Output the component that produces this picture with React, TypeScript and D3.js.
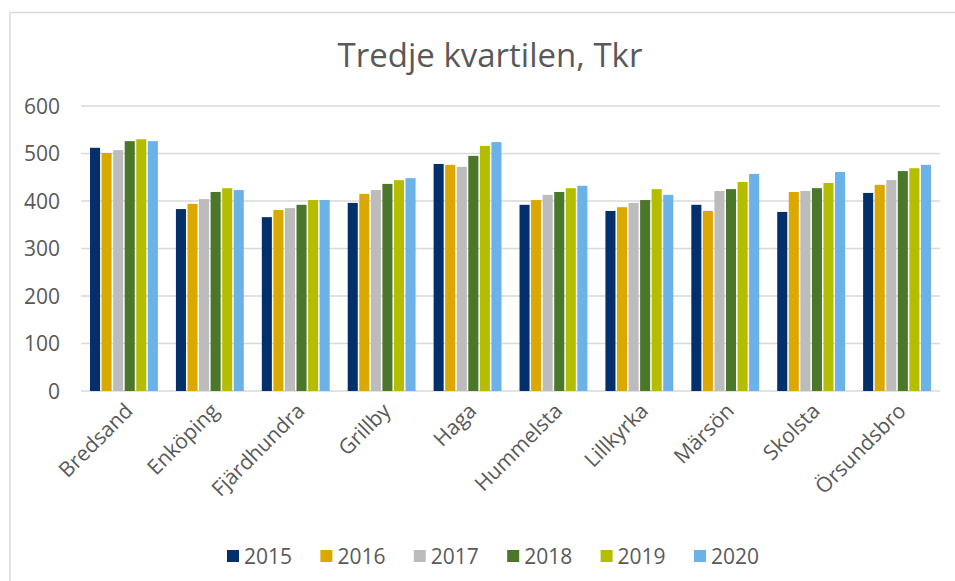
import React from "react";
import * as d3 from "d3";

const categories = ["Bredsand", "Enköping", "Fjärdhundra", "Grillby", "Haga", "Hummelsta", "Lillkyrka", "Märsön", "Skolsta", "Örsundsbro"];
const years = ["2015", "2016", "2017", "2018", "2019", "2020"];
const v2015 = [512, 383, 366, 396, 478, 392, 379, 392, 377, 417];
const v2016 = [501, 394, 381, 415, 476, 402, 387, 379, 419, 434];
const v2017 = [507, 404, 385, 423, 472, 413, 396, 421, 421, 444];
const v2018 = [526, 419, 392, 436, 495, 419, 402, 425, 427, 463];
const v2019 = [530, 427, 402, 444, 516, 427, 425, 440, 438, 469];
const v2020 = [526, 423, 402, 448, 524, 432, 413, 457, 461, 476];
const seriesValues = [v2015, v2016, v2017, v2018, v2019, v2020];
const colors = ["#03306b", "#dba800", "#bcbcbc", "#4b772b", "#b5bd00", "#6ab2e7"];
const yTicks = [0, 100, 200, 300, 400, 500, 600];
const title = "Tredje kvartilen, Tkr";

const W = 955;
const H = 581;
const FONT = "'Open Sans', sans-serif";
const TXT = "#595959";

export default function App() {
  const y = d3.scaleLinear().domain([0, 600]).range([391, 106]);
  const x = d3.scaleBand<string>().domain(categories).range([81, 940]).paddingInner(0.21).paddingOuter(0.105);
  const xi = d3.scaleBand<string>().domain(years).range([0, x.bandwidth()]).paddingInner(0.13).paddingOuter(0);
  const legendX = d3.scalePoint<string>().domain(years).range([227, 694]);

  return (
    <div style={{ position: "absolute", left: 0, top: 0 }}>
      <svg width={W} height={H} style={{ display: "block" }}>
        <rect x={0} y={0} width={W} height={H} fill="#fff" />
        <rect x={10} y={12.5} width={W + 20} height={H + 20} fill="none" stroke="#d9d9d9" strokeWidth={1.5} />
        <text x={490} y={67} textAnchor="middle" fontFamily={FONT} fontSize={33} fill={TXT}>{title}</text>
        {yTicks.map((t) => (
          <g key={t}>
            <line x1={81} x2={940} y1={y(t)} y2={y(t)} stroke="#d9d9d9" strokeWidth={1.5} />
            <text x={60} y={y(t)} dy="0.36em" textAnchor="end" fontFamily={FONT} fontSize={21} fill={TXT}>{t}</text>
          </g>
        ))}
        {categories.map((c, ci) => (
          <g key={c} transform={`translate(${x(c)},0)`}>
            {years.map((yr, si) => (
              <rect key={yr} x={xi(yr)} width={xi.bandwidth()} y={y(seriesValues[si][ci])} height={y(0) - y(seriesValues[si][ci])} fill={colors[si]} />
            ))}
          </g>
        ))}
        {categories.map((c) => (
          <text key={c} transform={`translate(${(x(c) as number) + x.bandwidth() / 2 + 5},${407}) rotate(-45)`} textAnchor="end" dy="0.35em" fontFamily={FONT} fontSize={21} fill={TXT}>{c}</text>
        ))}
        {years.map((yr, si) => (
          <g key={yr} transform={`translate(${legendX(yr)},550)`}>
            <rect x={0} y={0} width={12} height={12} fill={colors[si]} />
            <text x={17} y={6} dy="0.36em" fontFamily={FONT} fontSize={21} fill={TXT}>{yr}</text>
          </g>
        ))}
      </svg>
    </div>
  );
}
